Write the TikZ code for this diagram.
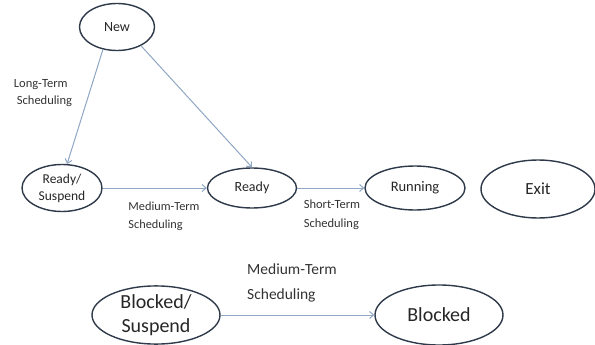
\documentclass[tikz,border=0pt]{standalone}
\usepackage{fontspec}
\setmainfont{Carlito}
\usetikzlibrary{shapes.geometric,arrows.meta}
\definecolor{edgeblue}{HTML}{8FA6C4}
\definecolor{ringdark}{HTML}{2E3A4A}
\tikzset{
  state/.style={ellipse, draw=ringdark, line width=1.4pt, inner sep=0pt, align=center, text=black!85},
  flow/.style={draw=edgeblue, line width=1pt, -{Straight Barb[length=4pt,width=7pt]}},
  lab/.style={align=left, text=black!80, inner sep=0pt}
}
\begin{document}
\begin{tikzpicture}[x=1pt,y=-1pt]
\useasboundingbox (0,0) rectangle (595,345);
\node[state, minimum width=75pt, minimum height=47pt, font=\fontsize{14}{16}\selectfont] (new) at (117,27) {New};
\node[state, minimum width=80pt, minimum height=47pt, font=\fontsize{13.5}{17}\selectfont] (rs) at (62,188) {Ready/\\Suspend};
\node[state, minimum width=89pt, minimum height=40pt, font=\fontsize{14}{16}\selectfont] (ready) at (252,188) {Ready};
\node[state, minimum width=100pt, minimum height=44pt, font=\fontsize{14.5}{16}\selectfont] (run) at (415,188) {Running};
\node[state, minimum width=114pt, minimum height=58pt, font=\fontsize{17}{19}\selectfont] (exit) at (538,189) {Exit};
\node[state, minimum width=128pt, minimum height=58pt, font=\fontsize{20}{24}\selectfont] (bs) at (156,315) {Blocked/\\Suspend};
\node[state, minimum width=128pt, minimum height=60pt, font=\fontsize{20}{22}\selectfont] (bl) at (439,315) {Blocked};

\draw[flow] (new.238) -- (rs.78);
\draw[flow] (new.-38) -- (ready.north);
\draw[flow] (rs) -- (ready);
\draw[flow] (ready) -- (run);
\draw[flow] (bs) -- (bl);

\node[lab, font=\fontsize{12.5}{17}\selectfont] (l1) at (43,93) {Long-Term\\\hspace*{3pt}Scheduling};
\node[lab, font=\fontsize{12.3}{18}\selectfont] (l2) at (164,216) {Medium-Term\\Scheduling};
\node[lab, font=\fontsize{12.5}{19}\selectfont] (l3) at (332,215) {Short-Term\\Scheduling};
\node[lab, font=\fontsize{15.5}{25}\selectfont] (l4) at (292,283) {Medium-Term\\Scheduling};
\end{tikzpicture}
\end{document}
